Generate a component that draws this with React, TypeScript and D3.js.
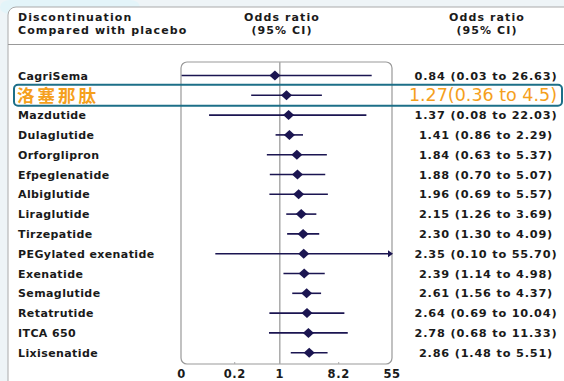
import * as d3 from "d3";
import React from "react";

// rows, top to bottom
const drugs = ["CagriSema", "洛塞那肽", "Mazdutide", "Dulaglutide", "Orforglipron", "Efpeglenatide", "Albiglutide",
    "Liraglutide", "Tirzepatide", "PEGylated exenatide", "Exenatide", "Semaglutide", "Retatrutide", "ITCA 650", "Lixisenatide"];
const oddsRatio = [0.84, 1.27, 1.37, 1.41, 1.84, 1.88, 1.96, 2.15, 2.30, 2.35, 2.39, 2.61, 2.64, 2.78, 2.86];
const ciLow = [0.03, 0.36, 0.08, 0.86, 0.63, 0.70, 0.69, 1.26, 1.30, 0.10, 1.14, 1.56, 0.69, 0.68, 1.48];
const ciHigh = [26.63, 4.5, 22.03, 2.29, 5.37, 5.07, 5.57, 3.69, 4.09, 55.70, 4.98, 4.37, 10.04, 11.33, 5.51];
const ciText = ["0.84 (0.03 to 26.63)", "1.27(0.36 to 4.5)", "1.37 (0.08 to 22.03)", "1.41 (0.86 to 2.29)",
    "1.84 (0.63 to 5.37)", "1.88 (0.70 to 5.07)", "1.96 (0.69 to 5.57)", "2.15 (1.26 to 3.69)", "2.30 (1.30 to 4.09)",
    "2.35 (0.10 to 55.70)", "2.39 (1.14 to 4.98)", "2.61 (1.56 to 4.37)", "2.64 (0.69 to 10.04)", "2.78 (0.68 to 11.33)",
    "2.86 (1.48 to 5.51)"];
const highlightIndex = 1;

const tickValues = [0.03, 0.2, 1, 8.2, 55];
const tickLabels = ["0", "0.2", "1", "8.2", "55"];

const W = 564;
const H = 381;
const font = "'DejaVu Sans', sans-serif";
const navy = "#1b1551";
const orange = "#f5a01c";

export default function App() {
    const boxLeft = 181, boxRight = 392, boxTop = 62, boxBottom = 364;
    const x = d3.scaleLog().domain([0.03, 55]).range([181.6, 392]).clamp(true);
    const y = d3.scalePoint<number>().domain(d3.range(drugs.length)).range([75.5, 352.7]);
    // wide diamond like the reference marker
    const diamond = "M0,-5L5.5,0L0,5L-5.5,0Z";

    return (
        <svg width={W} height={H} style={{ position: "fixed", left: 0, top: 0, display: "block" }}>
            <rect x={0} y={0} width={W} height={H} fill="#eef4f7" />
            <rect x={0} y={0} width={140} height={14} rx={10} fill="#e3f4f9" />
            <rect x={8} y={7} width={W + 10} height={H + 10} rx={8} fill="#fff" stroke="#aaa" strokeWidth={1} />
            <line x1={8} x2={W} y1={44.5} y2={44.5} stroke="#999" strokeWidth={1} />

            {/* header */}
            <g fontFamily={font} fontWeight={700} fontSize={11} letterSpacing={1.1} fill="#1a1a1a">
                <text x={18} y={21}>Discontinuation</text>
                <text x={18} y={34}>Compared with placebo</text>
                <text x={282} y={21} textAnchor="middle">Odds ratio</text>
                <text x={282} y={34} textAnchor="middle">(95% CI)</text>
                <text x={487} y={21} textAnchor="middle">Odds ratio</text>
                <text x={487} y={34} textAnchor="middle">(95% CI)</text>
            </g>

            {/* plot frame */}
            <rect x={boxLeft} y={boxTop} width={boxRight - boxLeft} height={boxBottom - boxTop} rx={6}
                fill="none" stroke="#999" strokeWidth={1.2} />
            <line x1={x(1)} x2={x(1)} y1={boxTop} y2={boxBottom} stroke="#aaa" strokeWidth={1.5} />
            {tickValues.map((t, i) => (
                <g key={i}>
                    {i > 0 && i < tickValues.length - 1 && t !== 1 ? (
                        <line x1={x(t)} x2={x(t)} y1={boxBottom - 2} y2={boxBottom} stroke="#aaa" />
                    ) : null}
                    <text x={x(t)} y={378} textAnchor="middle" fontFamily={font} fontWeight={700} fontSize={11.5}
                        letterSpacing={0.6} fill="#1a1a1a">{tickLabels[i]}</text>
                </g>
            ))}

            {/* rows */}
            {drugs.map((d, i) => {
                const hi = i === highlightIndex;
                const cy = y(i) as number;
                const arrow = ciHigh[i] > 55;
                return (
                    <g key={d}>
                        <line x1={x(ciLow[i])} x2={x(ciHigh[i]) - (arrow ? 3 : 0)} y1={cy} y2={cy} stroke={navy}
                            strokeWidth={1.6} />
                        {arrow ? (
                            <path d={`M${x(55) - 4},${cy - 3.5}L${x(55) + 1},${cy}L${x(55) - 4},${cy + 3.5}Z`}
                                fill={navy} />
                        ) : null}
                        <path d={diamond} transform={`translate(${x(oddsRatio[i])},${cy})`} fill={navy} />
                        {hi ? (
                            <>
                                <text x={17} y={cy + 7} fontFamily="'Noto Sans CJK SC', sans-serif" fontWeight={700}
                                    fontSize={17.5} letterSpacing={3} fill={orange}>{d}</text>
                                <text x={557} y={cy + 6} textAnchor="end" fontFamily={font}
                                    fontWeight={400} fontSize={17.5} fill={orange}>{ciText[i]}</text>
                            </>
                        ) : (
                            <>
                                <text x={18} y={cy + 4} fontFamily={font} fontWeight={700} fontSize={11}
                                    letterSpacing={0.4} fill="#1a1a1a">{d}</text>
                                <text x={486} y={cy + 4} textAnchor="middle" fontFamily={font} fontWeight={700}
                                    fontSize={11.3} letterSpacing={0.8} fill="#1a1a1a">{ciText[i]}</text>
                            </>
                        )}
                    </g>
                );
            })}

            {/* highlight box */}
            <rect x={14} y={y(highlightIndex)! - 10.5} width={548} height={21} rx={4} fill="none" stroke="#1c6f88"
                strokeWidth={2} />
        </svg>
    );
}
